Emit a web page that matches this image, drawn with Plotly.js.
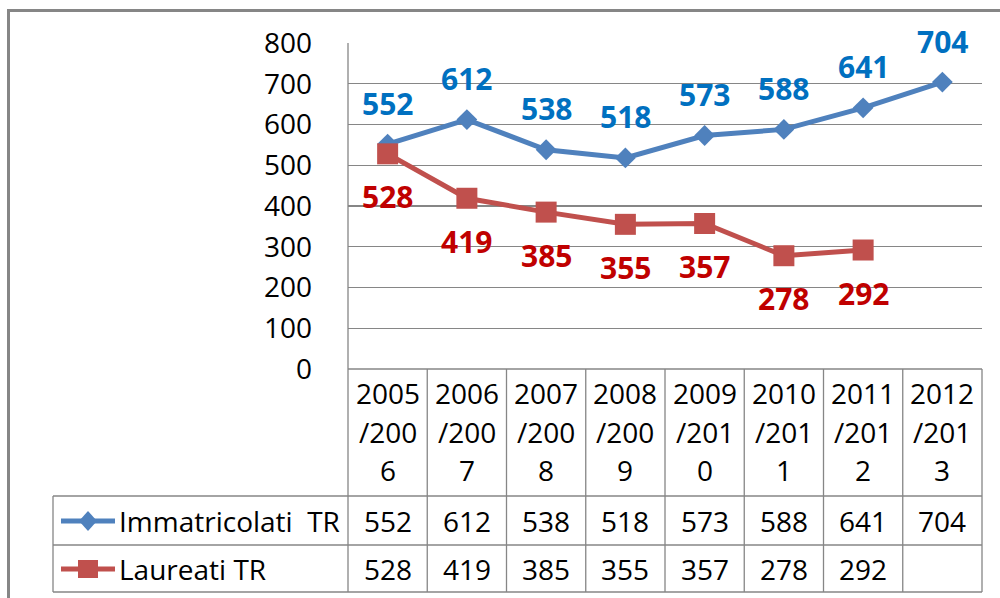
<!DOCTYPE html>
<html>
<head>
<meta charset="utf-8">
<script src="https://cdn.plot.ly/plotly-3.0.1.min.js"></script>
<style>html,body{margin:0;padding:0;background:#fff}#chart{width:1000px;height:598px}</style>
</head>
<body>
<div id="chart"></div>
<script>
const categories = ['2005/2006','2006/2007','2007/2008','2008/2009','2009/2010','2010/2011','2011/2012','2012/2013'];
const immatricolati = [552, 612, 538, 518, 573, 588, 641, 704];
const laureati = [528, 419, 385, 355, 357, 278, 292, null];
const seriesNames = ['Immatricolati  TR', 'Laureati TR'];
const yTickVals = [0, 100, 200, 300, 400, 500, 600, 700, 800];

const W = 1000, H = 598;
const L = 348, R = 982, T = 43, B = 369;
const PW = R - L, PH = B - T;
const px = X => (X - L) / PW;
const py = Y => (B - Y) / PH;

const FONT = '"Open Sans", "Liberation Sans", sans-serif';
const GRID = '#868686';
const BLUE = '#4F81BD', RED = '#C0504D';
const BLUE_LBL = '#0070C0', RED_LBL = '#C00000';

const traces = [
  {x: categories, y: immatricolati, name: seriesNames[0], type: 'scatter', mode: 'lines+markers',
   line: {color: BLUE, width: 5}, marker: {symbol: 'diamond', size: 16, color: BLUE}, hoverinfo: 'none'},
  {x: categories, y: laureati, name: seriesNames[1], type: 'scatter', mode: 'lines+markers',
   line: {color: RED, width: 5}, marker: {symbol: 'square', size: 21, color: RED}, hoverinfo: 'none'}
];

const shapes = [];
const annotations = [];
const n = categories.length;

// data labels
immatricolati.forEach((v, i) => {
  if (v == null) return;
  annotations.push({x: categories[i], y: v, xref: 'x', yref: 'y', text: String(v), showarrow: false,
    yshift: 41, font: {family: FONT, size: 30, color: BLUE_LBL, weight: 'bold'}});
});
laureati.forEach((v, i) => {
  if (v == null) return;
  annotations.push({x: categories[i], y: v, xref: 'x', yref: 'y', text: String(v), showarrow: false,
    yshift: -43, font: {family: FONT, size: 30, color: RED_LBL, weight: 'bold'}});
});

// table geometry (pixels)
const hdrTop = 369, hdrBot = 496, row1Bot = 545, row2Bot = 592, legLeft = 53;
const lineStyle = {color: GRID, width: 1.3};
function hline(x0, x1, y) { shapes.push({type: 'line', xref: 'paper', yref: 'paper', x0: px(x0), x1: px(x1), y0: py(y), y1: py(y), line: lineStyle}); }
function vline(x, y0, y1) { shapes.push({type: 'line', xref: 'paper', yref: 'paper', x0: px(x), x1: px(x), y0: py(y0), y1: py(y1), line: lineStyle}); }

vline(L, T, row2Bot);
hline(legLeft, R, hdrBot);
hline(legLeft, R, row1Bot);
hline(legLeft, R, row2Bot);
hline(L, R, hdrTop);
vline(legLeft, hdrBot, row2Bot);
vline(R, hdrTop, row2Bot);
for (let i = 1; i < n; i++) {
  const xb = L + PW * i / n;
  vline(xb, hdrTop, row2Bot);
}

const txtFont = {family: FONT, size: 28, color: '#000000'};
categories.forEach((c, i) => {
  const parts = [c.slice(0, 4), c.slice(4, 8), c.slice(8)];
  const ys = [393, 432, 470];
  parts.forEach((p, k) => {
    annotations.push({x: c, xref: 'x', y: py(ys[k]), yref: 'paper', text: p, showarrow: false,
      xanchor: 'center', yanchor: 'middle', font: txtFont});
  });
  if (immatricolati[i] != null)
    annotations.push({x: c, xref: 'x', y: py(521), yref: 'paper', text: String(immatricolati[i]), showarrow: false,
      xanchor: 'center', yanchor: 'middle', font: txtFont});
  if (laureati[i] != null)
    annotations.push({x: c, xref: 'x', y: py(569), yref: 'paper', text: String(laureati[i]), showarrow: false,
      xanchor: 'center', yanchor: 'middle', font: txtFont});
});

[[521, BLUE, 'diamond', seriesNames[0]], [569, RED, 'square', seriesNames[1]]].forEach(([yy, col, sym, name]) => {
  shapes.push({type: 'line', xref: 'paper', yref: 'paper', x0: px(61), x1: px(115), y0: py(yy), y1: py(yy), line: {color: col, width: 5}});
  if (sym === 'diamond') {
    shapes.push({type: 'path', xref: 'paper', yref: 'paper', xsizemode: 'pixel', ysizemode: 'pixel',
      xanchor: px(88), yanchor: py(yy), path: 'M0,-10 L9,0 L0,10 L-9,0 Z', fillcolor: col, line: {width: 0}});
  } else {
    shapes.push({type: 'rect', xref: 'paper', yref: 'paper', xsizemode: 'pixel', ysizemode: 'pixel',
      xanchor: px(88), yanchor: py(yy), x0: -10, x1: 10, y0: -9, y1: 9, fillcolor: col, line: {width: 0}});
  }
  annotations.push({x: px(117), xref: 'paper', y: py(yy), yref: 'paper', text: name, showarrow: false,
    xanchor: 'left', yanchor: 'middle', font: txtFont});
});

shapes.push({type: 'line', xref: 'paper', yref: 'paper', x0: px(8.5), x1: px(8.5), y0: py(10), y1: py(600), line: {color: '#868686', width: 3}});
shapes.push({type: 'line', xref: 'paper', yref: 'paper', x0: px(7), x1: px(1002), y0: py(10.5), y1: py(10.5), line: {color: '#868686', width: 3}});

const layout = {
  width: W, height: H,
  margin: {l: L, r: W - R, t: T, b: H - B, pad: 0},
  paper_bgcolor: '#ffffff', plot_bgcolor: '#ffffff',
  showlegend: false,
  xaxis: {type: 'category', categoryorder: 'array', categoryarray: categories, range: [-0.5, n - 0.5],
    showticklabels: false, showgrid: false, zeroline: false, showline: false, ticks: ''},
  yaxis: {range: [0, 800], tickvals: yTickVals, ticktext: yTickVals.map(String), showgrid: true,
    gridcolor: GRID, gridwidth: 1.3, zeroline: false, showline: false, ticks: '', ticklabelstandoff: 35,
    tickfont: {family: FONT, size: 28, color: '#000000'}},
  shapes: shapes,
  annotations: annotations
};

Plotly.newPlot('chart', traces, layout, {displayModeBar: false, staticPlot: true});
</script>
</body>
</html>
